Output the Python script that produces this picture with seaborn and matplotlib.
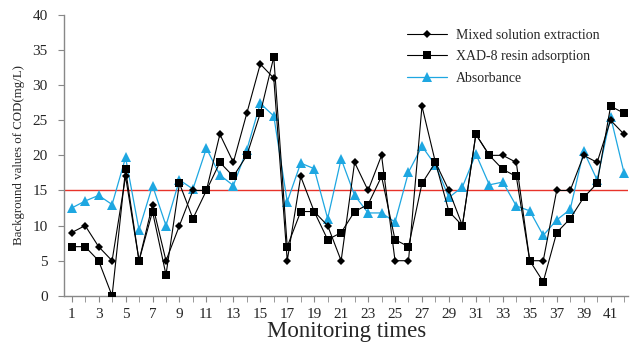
import numpy as np
import pandas as pd
import seaborn as sns
from matplotlib import pyplot as plt

# Dados
tempos = list(range(1, 43))
mixed = [9, 10, 7, 5, 17, 5, 13, 5, 10, 15, 15, 23, 19, 26, 33, 31, 5, 17, 12, 10, 5,
         19, 15, 20, 5, 5, 27, 19, 15, 10, 23, 20, 20, 19, 5, 5, 15, 15, 20, 19, 25, 23]
xad8 = [7, 7, 5, 0, 18, 5, 12, 3, 16, 11, 15, 19, 17, 20, 26, 34, 7, 12, 12, 8, 9,
        12, 13, 17, 8, 7, 16, 19, 12, 10, 23, 20, 18, 17, 5, 2, 9, 11, 14, 16, 27, 26]
absorb = [12.5, 13.5, 14.3, 13.0, 19.7, 9.4, 15.7, 10.0, 16.5, 15.2, 21.0, 17.2, 15.7, 20.8,
          27.4, 25.6, 13.4, 18.9, 18.1, 11.0, 19.5, 14.3, 11.8, 11.8, 10.5, 17.6, 21.3, 18.6,
          14.0, 15.5, 20.2, 15.8, 16.2, 12.8, 12.1, 8.6, 10.8, 12.3, 20.6, 16.5, 25.5, 17.5]
limite = 15
xticks = list(range(1, 42, 2))
yticks = list(range(0, 41, 5))

sns.set_style('ticks')
plt.rcParams['font.family'] = ['Liberation Serif', 'DejaVu Serif']

fig = plt.figure(figsize=(6.3, 3.46), dpi=100)
ax = fig.add_axes([0.102, 0.145, 0.895, 0.812])

ax.axhline(limite, color='#e8332a', lw=1.0, zorder=1)

sns.lineplot(x=tempos, y=absorb, ax=ax, color='#1ea7e1', lw=0.9, marker='^',
             markersize=6.5, markeredgewidth=0, label='Absorbance', zorder=2)
sns.lineplot(x=tempos, y=xad8, ax=ax, color='black', lw=0.8, marker='s',
             markersize=6.3, markeredgewidth=0, label='XAD-8 resin adsorption', zorder=3)
sns.lineplot(x=tempos, y=mixed, ax=ax, color='black', lw=0.8, marker='D',
             markersize=4.2, markeredgewidth=0, label='Mixed solution extraction', zorder=4)

# Reordenar a legenda
h, l = ax.get_legend_handles_labels()
ordem = [2, 1, 0]
ax.legend([h[i] for i in ordem], [l[i] for i in ordem], loc='upper left',
          bbox_to_anchor=(0.598, 0.97), frameon=False, fontsize=10,
          handlelength=2.9, handletextpad=0.65, labelspacing=0.6, borderaxespad=0)

ax.set_xlim(0.45, 42.3)
ax.set_ylim(0, 40)
ax.set_xticks(xticks)
ax.set_xticks(tempos, minor=True)
ax.set_yticks(yticks)
ax.tick_params(axis='both', labelsize=11, color='#888888', length=4)
ax.tick_params(axis='x', pad=5)
ax.tick_params(axis='y', pad=8)
ax.tick_params(axis='x', which='minor', color='#888888', length=4)
ax.set_xlabel('Monitoring times', fontsize=16.5, labelpad=0)
ax.set_ylabel('Background values of COD(mg/L)', fontsize=9.3, labelpad=5)

sns.despine(ax=ax)
for s in ['left', 'bottom']:
    ax.spines[s].set_color('#888888')
    ax.spines[s].set_linewidth(1.0)

plt.savefig('out.png', dpi=100)
